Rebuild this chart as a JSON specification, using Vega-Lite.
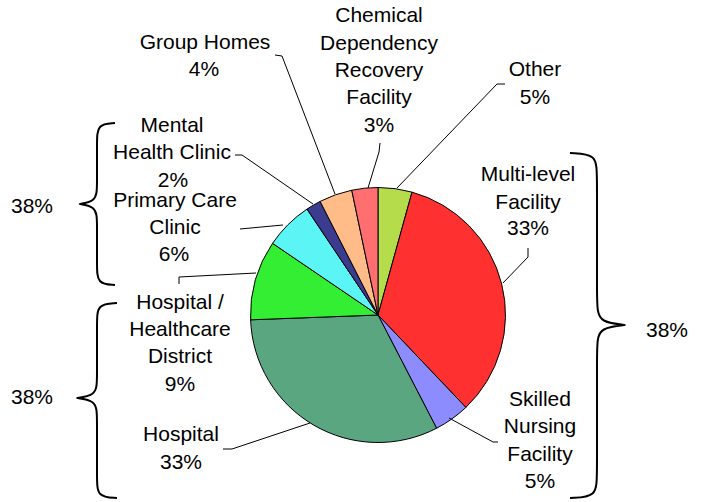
{
  "$schema": "https://vega.github.io/schema/vega-lite/v6.json",
  "width": 707,
  "height": 502,
  "autosize": "none",
  "padding": 0,
  "background": "white",
  "config": {"view": {"stroke": null}, "text": {"font": "Liberation Sans", "fontSize": 21, "color": "black"}},
  "datasets": {
    "slices": [
      {"category": "Other", "v": 4.3, "o": 1},
      {"category": "Multi-level Facility", "v": 33.6, "o": 2},
      {"category": "Skilled Nursing Facility", "v": 4.5, "o": 3},
      {"category": "Hospital", "v": 32.0, "o": 4},
      {"category": "Hospital / Healthcare District", "v": 10.1, "o": 5},
      {"category": "Primary Care Clinic", "v": 6.1, "o": 6},
      {"category": "Mental Health Clinic", "v": 1.9, "o": 7},
      {"category": "Group Homes", "v": 4.2, "o": 8},
      {"category": "Chemical Dependency Recovery Facility", "v": 3.3, "o": 9}
    ],
    "labels": [
      {"t": "Chemical", "x": 379, "y": 16},
      {"t": "Dependency", "x": 379, "y": 44},
      {"t": "Recovery", "x": 379, "y": 71},
      {"t": "Facility", "x": 379, "y": 98},
      {"t": "3%", "x": 379, "y": 126},
      {"t": "Group Homes", "x": 205, "y": 43},
      {"t": "4%", "x": 204, "y": 70},
      {"t": "Other", "x": 535, "y": 70},
      {"t": "5%", "x": 535, "y": 98},
      {"t": "Mental", "x": 172, "y": 126},
      {"t": "Health Clinic", "x": 172, "y": 153},
      {"t": "2%", "x": 173, "y": 181},
      {"t": "Primary Care", "x": 175, "y": 201},
      {"t": "Clinic", "x": 175, "y": 228},
      {"t": "6%", "x": 174, "y": 255},
      {"t": "Hospital /", "x": 180, "y": 303},
      {"t": "Healthcare", "x": 180, "y": 330},
      {"t": "District", "x": 180, "y": 357},
      {"t": "9%", "x": 180, "y": 385},
      {"t": "Hospital", "x": 181, "y": 435},
      {"t": "33%", "x": 181, "y": 463},
      {"t": "Multi-level", "x": 528, "y": 175},
      {"t": "Facility", "x": 528, "y": 203},
      {"t": "33%", "x": 528, "y": 229},
      {"t": "Skilled", "x": 540, "y": 400},
      {"t": "Nursing", "x": 540, "y": 427},
      {"t": "Facility", "x": 540, "y": 455},
      {"t": "5%", "x": 540, "y": 482},
      {"t": "38%", "x": 32, "y": 207},
      {"t": "38%", "x": 32, "y": 398},
      {"t": "38%", "x": 667, "y": 331}
    ],
    "leaders": [
      {"id": "group", "ord": 1, "x": 275, "y": 55},
      {"id": "group", "ord": 2, "x": 282, "y": 56},
      {"id": "group", "ord": 3, "x": 335, "y": 194},
      {"id": "chem", "ord": 1, "x": 380, "y": 143},
      {"id": "chem", "ord": 2, "x": 379, "y": 152},
      {"id": "chem", "ord": 3, "x": 368, "y": 188},
      {"id": "mental", "ord": 1, "x": 235, "y": 155},
      {"id": "mental", "ord": 2, "x": 242, "y": 155},
      {"id": "mental", "ord": 3, "x": 313, "y": 204},
      {"id": "other", "ord": 1, "x": 505, "y": 84},
      {"id": "other", "ord": 2, "x": 497, "y": 84},
      {"id": "other", "ord": 3, "x": 397, "y": 188},
      {"id": "primary", "ord": 1, "x": 240, "y": 229},
      {"id": "primary", "ord": 2, "x": 283, "y": 225},
      {"id": "hhd", "ord": 1, "x": 179, "y": 284},
      {"id": "hhd", "ord": 2, "x": 179, "y": 277},
      {"id": "hhd", "ord": 3, "x": 256, "y": 273},
      {"id": "hosp", "ord": 1, "x": 223, "y": 449},
      {"id": "hosp", "ord": 2, "x": 232, "y": 449},
      {"id": "hosp", "ord": 3, "x": 310, "y": 423},
      {"id": "multi", "ord": 1, "x": 528, "y": 248},
      {"id": "multi", "ord": 2, "x": 528, "y": 257},
      {"id": "multi", "ord": 3, "x": 503, "y": 283},
      {"id": "skilled", "ord": 1, "x": 449, "y": 418},
      {"id": "skilled", "ord": 2, "x": 493, "y": 442},
      {"id": "skilled", "ord": 3, "x": 498, "y": 442}
    ],
    "braces": [
      {"id": "b1", "ord": 1, "x": 115, "y": 123},
      {"id": "b1", "ord": 2, "x": 97, "y": 124},
      {"id": "b1", "ord": 3, "x": 97, "y": 143},
      {"id": "b1", "ord": 4, "x": 97, "y": 184},
      {"id": "b1", "ord": 5, "x": 97, "y": 203},
      {"id": "b1", "ord": 6, "x": 71, "y": 204},
      {"id": "b1", "ord": 7, "x": 97, "y": 205},
      {"id": "b1", "ord": 8, "x": 97, "y": 224},
      {"id": "b1", "ord": 9, "x": 97, "y": 265},
      {"id": "b1", "ord": 10, "x": 97, "y": 284},
      {"id": "b1", "ord": 11, "x": 115, "y": 285},
      {"id": "b2", "ord": 1, "x": 117, "y": 303},
      {"id": "b2", "ord": 2, "x": 97, "y": 304},
      {"id": "b2", "ord": 3, "x": 97, "y": 323},
      {"id": "b2", "ord": 4, "x": 97, "y": 378},
      {"id": "b2", "ord": 5, "x": 97, "y": 397},
      {"id": "b2", "ord": 6, "x": 67, "y": 398},
      {"id": "b2", "ord": 7, "x": 97, "y": 399},
      {"id": "b2", "ord": 8, "x": 97, "y": 418},
      {"id": "b2", "ord": 9, "x": 97, "y": 478},
      {"id": "b2", "ord": 10, "x": 97, "y": 497},
      {"id": "b2", "ord": 11, "x": 117, "y": 498},
      {"id": "b3", "ord": 1, "x": 570, "y": 153},
      {"id": "b3", "ord": 2, "x": 597, "y": 154},
      {"id": "b3", "ord": 3, "x": 597, "y": 176},
      {"id": "b3", "ord": 4, "x": 597, "y": 302},
      {"id": "b3", "ord": 5, "x": 597, "y": 324},
      {"id": "b3", "ord": 6, "x": 639, "y": 325},
      {"id": "b3", "ord": 7, "x": 597, "y": 326},
      {"id": "b3", "ord": 8, "x": 597, "y": 348},
      {"id": "b3", "ord": 9, "x": 597, "y": 475},
      {"id": "b3", "ord": 10, "x": 597, "y": 497},
      {"id": "b3", "ord": 11, "x": 570, "y": 498}
    ]
  },
  "layer": [
    {
      "data": {"name": "slices"},
      "mark": {"type": "arc", "outerRadius": 127.5, "stroke": "black", "strokeWidth": 1},
      "encoding": {
        "x": {"datum": 378, "type": "quantitative", "scale": {"domain": [0, 707], "nice": false, "zero": false}, "axis": null},
        "y": {"datum": 315, "type": "quantitative", "scale": {"domain": [0, 502], "nice": false, "zero": false, "reverse": true}, "axis": null},
        "theta": {"field": "v", "type": "quantitative", "stack": true},
        "order": {"field": "o", "type": "quantitative"},
        "color": {
          "field": "category",
          "type": "nominal",
          "legend": null,
          "scale": {
            "domain": ["Other", "Multi-level Facility", "Skilled Nursing Facility", "Hospital", "Hospital / Healthcare District", "Primary Care Clinic", "Mental Health Clinic", "Group Homes", "Chemical Dependency Recovery Facility"],
            "range": ["#b5dc4a", "#ff3030", "#8c8cff", "#5aa680", "#33ee33", "#5cf5f5", "#3b3b8f", "#ffbb88", "#ff6f6f"]
          }
        }
      }
    },
    {
      "data": {"name": "leaders"},
      "mark": {"type": "line", "color": "black", "strokeWidth": 1},
      "encoding": {
        "x": {"field": "x", "type": "quantitative"},
        "y": {"field": "y", "type": "quantitative"},
        "detail": {"field": "id"},
        "order": {"field": "ord", "type": "quantitative"}
      }
    },
    {
      "data": {"name": "braces"},
      "mark": {"type": "line", "color": "black", "strokeWidth": 2, "interpolate": "basis"},
      "encoding": {
        "x": {"field": "x", "type": "quantitative"},
        "y": {"field": "y", "type": "quantitative"},
        "detail": {"field": "id"},
        "order": {"field": "ord", "type": "quantitative"}
      }
    },
    {
      "data": {"name": "labels"},
      "mark": {"type": "text", "align": "center", "baseline": "middle"},
      "encoding": {
        "x": {"field": "x", "type": "quantitative"},
        "y": {"field": "y", "type": "quantitative"},
        "text": {"field": "t"}
      }
    }
  ]
}
